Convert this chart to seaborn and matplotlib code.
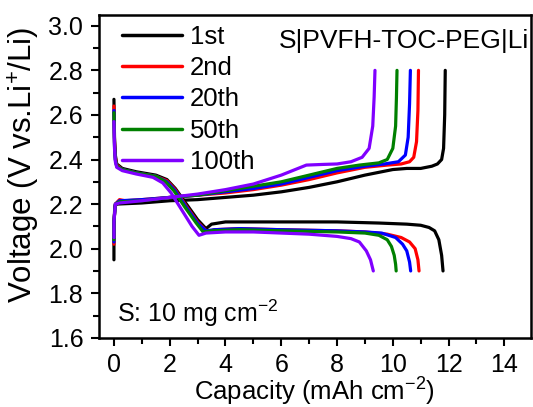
import numpy as np
import pandas as pd
import matplotlib
matplotlib.use("Agg")
import matplotlib.pyplot as plt
from matplotlib.ticker import MultipleLocator
import seaborn as sns

# Galvanostatic discharge/charge profiles of S|PVFH-TOC-PEG|Li (capacity in mAh cm^-2, voltage in V)
cycles = ["1st", "2nd", "20th", "50th", "100th"]
colors = ["#000000", "#ff0000", "#0000ff", "#008000", "#8000ff"]

dis_1st_x = [0, 0.02, 0.05, 0.1, 0.3, 0.8, 1.5, 1.9, 2.2, 2.6, 3.0, 3.3, 3.5, 4.0, 6.0, 8.0, 9.5, 10.5, 11.0, 11.3, 11.5, 11.65, 11.75, 11.8]
dis_1st_y = [2.67, 2.50, 2.42, 2.38, 2.36, 2.345, 2.33, 2.31, 2.27, 2.20, 2.13, 2.09, 2.11, 2.12, 2.12, 2.12, 2.115, 2.11, 2.105, 2.095, 2.08, 2.04, 1.97, 1.90]
chg_1st_x = [0, 0.0, 0.03, 0.1, 1.0, 2.0, 3.0, 4.0, 5.0, 6.0, 7.0, 8.0, 9.0, 10.0, 10.5, 11.0, 11.4, 11.6, 11.75, 11.82, 11.86, 11.88]
chg_1st_y = [1.95, 2.10, 2.19, 2.20, 2.205, 2.215, 2.22, 2.23, 2.24, 2.255, 2.275, 2.30, 2.33, 2.355, 2.36, 2.36, 2.37, 2.38, 2.40, 2.45, 2.60, 2.80]

dis_2nd_x = [0, 0.02, 0.05, 0.1, 0.3, 0.8, 1.5, 1.9, 2.2, 2.6, 3.0, 3.35, 3.6, 4.5, 6.0, 8.0, 9.0, 9.8, 10.3, 10.6, 10.8, 10.9, 10.94]
dis_2nd_y = [2.64, 2.48, 2.41, 2.375, 2.355, 2.34, 2.325, 2.305, 2.265, 2.19, 2.12, 2.075, 2.085, 2.09, 2.085, 2.08, 2.075, 2.065, 2.05, 2.03, 2.0, 1.95, 1.90]
chg_2nd_x = [0, 0.0, 0.05, 0.2, 0.4, 1.0, 2.0, 3.0, 4.0, 5.0, 6.0, 7.0, 8.0, 9.0, 9.8, 10.3, 10.6, 10.75, 10.85, 10.9, 10.92]
chg_2nd_y = [2.02, 2.12, 2.20, 2.22, 2.215, 2.22, 2.23, 2.24, 2.25, 2.265, 2.285, 2.31, 2.34, 2.365, 2.375, 2.38, 2.39, 2.41, 2.48, 2.62, 2.80]

dis_20th_x = [0, 0.02, 0.05, 0.1, 0.3, 0.8, 1.5, 1.9, 2.2, 2.6, 3.0, 3.3, 3.6, 4.5, 6.0, 8.0, 9.0, 9.6, 10.1, 10.35, 10.5, 10.6, 10.64]
dis_20th_y = [2.62, 2.47, 2.40, 2.37, 2.355, 2.34, 2.325, 2.30, 2.26, 2.185, 2.115, 2.08, 2.085, 2.09, 2.085, 2.08, 2.075, 2.07, 2.05, 2.02, 1.99, 1.94, 1.90]
chg_20th_x = [0, 0.0, 0.05, 0.2, 1.0, 2.0, 3.0, 4.0, 5.0, 6.0, 7.0, 8.0, 9.0, 9.7, 10.2, 10.45, 10.55, 10.6, 10.63]
chg_20th_y = [2.03, 2.12, 2.20, 2.215, 2.22, 2.23, 2.24, 2.255, 2.27, 2.29, 2.32, 2.35, 2.37, 2.38, 2.39, 2.42, 2.50, 2.65, 2.80]

dis_50th_x = [0, 0.02, 0.05, 0.1, 0.3, 0.8, 1.5, 1.85, 2.15, 2.55, 2.95, 3.2, 3.5, 4.5, 6.0, 8.0, 9.0, 9.5, 9.8, 9.95, 10.05, 10.1, 10.12]
dis_50th_y = [2.61, 2.46, 2.40, 2.37, 2.355, 2.34, 2.325, 2.30, 2.26, 2.185, 2.115, 2.075, 2.08, 2.085, 2.08, 2.075, 2.07, 2.06, 2.04, 2.01, 1.97, 1.93, 1.90]
chg_50th_x = [0, 0.0, 0.05, 0.2, 1.0, 2.0, 3.0, 4.0, 5.0, 6.0, 7.0, 8.0, 8.8, 9.5, 9.8, 10.0, 10.1, 10.13, 10.15]
chg_50th_y = [2.04, 2.12, 2.20, 2.21, 2.215, 2.23, 2.24, 2.26, 2.28, 2.30, 2.33, 2.36, 2.375, 2.385, 2.40, 2.45, 2.55, 2.68, 2.80]

dis_100th_x = [0, 0.02, 0.05, 0.1, 0.3, 0.8, 1.4, 1.75, 2.05, 2.45, 2.8, 3.05, 3.3, 4.0, 5.0, 6.0, 7.0, 8.0, 8.5, 8.8, 9.05, 9.2, 9.3]
dis_100th_y = [2.57, 2.45, 2.39, 2.365, 2.35, 2.335, 2.32, 2.295, 2.25, 2.17, 2.10, 2.06, 2.07, 2.075, 2.075, 2.07, 2.065, 2.055, 2.045, 2.03, 1.99, 1.95, 1.90]
chg_100th_x = [0, 0.0, 0.05, 0.2, 1.0, 2.0, 3.0, 4.0, 5.0, 6.0, 6.9, 7.5, 8.0, 8.5, 8.9, 9.15, 9.28, 9.33, 9.36]
chg_100th_y = [2.05, 2.12, 2.20, 2.205, 2.215, 2.23, 2.245, 2.265, 2.29, 2.33, 2.375, 2.378, 2.38, 2.39, 2.41, 2.45, 2.55, 2.68, 2.80]

x_ticks = [0, 2, 4, 6, 8, 10, 12, 14]
y_ticks = [1.6, 1.8, 2.0, 2.2, 2.4, 2.6, 2.8, 3.0]

profiles = {
    "1st": [(dis_1st_x, dis_1st_y), (chg_1st_x, chg_1st_y)],
    "2nd": [(dis_2nd_x, dis_2nd_y), (chg_2nd_x, chg_2nd_y)],
    "20th": [(dis_20th_x, dis_20th_y), (chg_20th_x, chg_20th_y)],
    "50th": [(dis_50th_x, dis_50th_y), (chg_50th_x, chg_50th_y)],
    "100th": [(dis_100th_x, dis_100th_y), (chg_100th_x, chg_100th_y)],
}

rows = []
for cyc in cycles:
    for seg, (xs, ys) in zip(["discharge", "charge"], profiles[cyc]):
        for i, (x, y) in enumerate(zip(xs, ys)):
            rows.append({"cycle": cyc, "segment": f"{cyc}-{seg}", "order": i,
                         "capacity": x, "voltage": y})
df = pd.DataFrame(rows)

sns.set_theme(style="ticks")
plt.rcParams["font.family"] = ["Liberation Sans", "DejaVu Sans"]
plt.rcParams["mathtext.fontset"] = "custom"
plt.rcParams["mathtext.rm"] = "Liberation Sans"
plt.rcParams["mathtext.it"] = "Liberation Sans:italic"
plt.rcParams["mathtext.bf"] = "Liberation Sans:bold"
plt.rcParams["text.color"] = "black"
plt.rcParams["axes.labelcolor"] = "black"

fig = plt.figure(figsize=(5.33, 4.07), dpi=100)
ax = fig.add_axes([0.185, 0.17, 0.811, 0.794])

palette = dict(zip(cycles, colors))
sns.lineplot(data=df, x="capacity", y="voltage", hue="cycle", units="segment",
             estimator=None, sort=False, palette=palette, hue_order=cycles,
             linewidth=2.3, ax=ax, legend=False)

ax.set_xlim(-0.55, 14.95)
ax.set_ylim(1.6, 3.05)
ax.set_xticks(x_ticks)
ax.set_yticks(y_ticks)
ax.set_yticklabels([f"{v:.1f}" for v in y_ticks])
ax.xaxis.set_minor_locator(MultipleLocator(1))
ax.yaxis.set_minor_locator(MultipleLocator(0.1))
ax.tick_params(which="both", direction="out", width=1.5, labelsize=18, colors="black")
ax.tick_params(which="major", length=6)
ax.tick_params(which="minor", length=4)
ax.tick_params(axis="x", which="major", pad=5)
ax.tick_params(axis="y", which="major", pad=5)
for sp in ax.spines.values():
    sp.set_linewidth(1.8)
    sp.set_color("black")

ax.set_xlabel("Capacity (mAh cm$^{-2}$)", fontsize=18.5)
ax.xaxis.label.set_va("baseline")
ax.xaxis.set_label_coords(0.5, -0.1957)
ax.set_ylabel("Voltage (V vs.Li$^{+}$/Li)", fontsize=22.5)
ax.yaxis.set_label_coords(-0.13, 0.535)

handles = [plt.Line2D([], [], color=c, lw=2.5) for c in colors]
ax.legend(handles, cycles, loc="upper left", bbox_to_anchor=(0.054, 0.968),
          frameon=False, fontsize=18.5, handlelength=2.35, handletextpad=0.3,
          labelspacing=0.28, borderaxespad=0.0, borderpad=0.0)

ax.text(0.9965, 0.8955, "S|PVFH-TOC-PEG|Li", transform=ax.transAxes,
        ha="right", va="baseline", fontsize=19)
ax.text(0.042, 0.050, "S: 10 mg cm$^{-2}$", transform=ax.transAxes,
        ha="left", va="baseline", fontsize=18)

fig.savefig("out.png", dpi=100)
